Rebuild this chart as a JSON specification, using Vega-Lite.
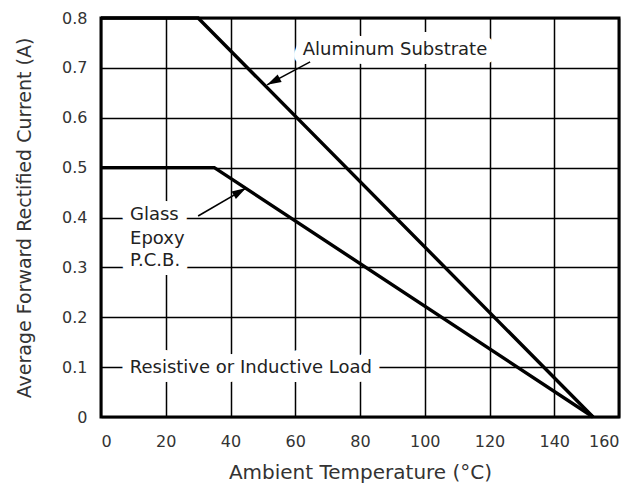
{
  "$schema": "https://vega.github.io/schema/vega-lite/v6.json",
  "width": 518,
  "height": 399,
  "autosize": {"type": "none"},
  "padding": {"left": 101, "top": 18, "right": 19, "bottom": 66},
  "background": "white",
  "config": {
    "font": "DejaVu Sans",
    "view": {"stroke": "black", "strokeWidth": 3},
    "axis": {
      "domain": false,
      "ticks": false,
      "grid": true,
      "gridColor": "black",
      "gridOpacity": 1,
      "gridWidth": 1.5,
      "labelFont": "DejaVu Sans",
      "labelFontSize": 16,
      "labelColor": "#333333",
      "titleFont": "DejaVu Sans",
      "titleFontWeight": "normal",
      "titleColor": "#333333"
    }
  },
  "datasets": {
    "curves": [
      {"series": "Aluminum Substrate", "t": 0, "i": 0.8},
      {"series": "Aluminum Substrate", "t": 30, "i": 0.8},
      {"series": "Aluminum Substrate", "t": 152, "i": 0},
      {"series": "Glass Epoxy P.C.B.", "t": 0, "i": 0.5},
      {"series": "Glass Epoxy P.C.B.", "t": 35, "i": 0.5},
      {"series": "Glass Epoxy P.C.B.", "t": 152, "i": 0}
    ],
    "centered": [
      {"label": "Aluminum Substrate", "t": 90.8, "i": 0.7258},
      {"label": "Resistive or Inductive Load", "t": 46.3, "i": 0.0882}
    ],
    "glass": [
      {"label": "Glass", "t": 8.96, "i": 0.395},
      {"label": "Epoxy", "t": 8.96, "i": 0.347},
      {"label": "P.C.B.", "t": 8.96, "i": 0.303}
    ],
    "arrows": [
      {"name": "Aluminum", "t": 64.6, "i": 0.712, "t2": 51.3, "i2": 0.666},
      {"name": "Glass", "t": 30.0, "i": 0.403, "t2": 44.8, "i2": 0.459}
    ]
  },
  "encoding": {
    "x": {
      "field": "t",
      "type": "quantitative",
      "scale": {"domain": [0, 160], "nice": false},
      "axis": {"values": [0, 20, 40, 60, 80, 100, 120, 140, 160], "labelPadding": 16, "titleFontSize": 20, "titlePadding": 13},
      "title": "Ambient Temperature (°C)"
    },
    "y": {
      "field": "i",
      "type": "quantitative",
      "scale": {"domain": [0, 0.8], "nice": false},
      "axis": {"values": [0, 0.1, 0.2, 0.3, 0.4, 0.5, 0.6, 0.7, 0.8], "labelPadding": 14, "titleFontSize": 19, "titlePadding": 27, "labelExpr": "datum.value == 0 ? '0' : format(datum.value, '.1f')"},
      "title": "Average Forward Rectified Current (A)"
    }
  },
  "layer": [
    {
      "data": {"name": "centered"},
      "mark": {"type": "text", "align": "center", "baseline": "alphabetic", "fontSize": 18, "color": "white", "stroke": "white", "strokeWidth": 18, "strokeJoin": "round"},
      "encoding": {"text": {"field": "label"}}
    },
    {
      "data": {"name": "glass"},
      "mark": {"type": "text", "align": "left", "baseline": "alphabetic", "fontSize": 18, "color": "white", "stroke": "white", "strokeWidth": 18, "strokeJoin": "round"},
      "encoding": {"text": {"field": "label"}}
    },
    {
      "data": {"name": "curves"},
      "mark": {"type": "line", "color": "black", "strokeWidth": 3.4},
      "encoding": {"detail": {"field": "series"}}
    },
    {
      "data": {"name": "arrows"},
      "mark": {"type": "rule", "color": "black", "strokeWidth": 1.6},
      "encoding": {"x2": {"field": "t2"}, "y2": {"field": "i2"}}
    },
    {
      "data": {"name": "arrows"},
      "transform": [{"filter": "datum.name == 'Aluminum'"}],
      "mark": {"type": "point", "shape": "M0,0 L0.9,3 L-0.9,3 Z", "filled": true, "color": "black", "opacity": 1, "size": 90, "angle": 242},
      "encoding": {"x": {"field": "t2", "type": "quantitative"}, "y": {"field": "i2", "type": "quantitative"}}
    },
    {
      "data": {"name": "arrows"},
      "transform": [{"filter": "datum.name == 'Glass'"}],
      "mark": {"type": "point", "shape": "M0,0 L0.9,3 L-0.9,3 Z", "filled": true, "color": "black", "opacity": 1, "size": 90, "angle": 59.7},
      "encoding": {"x": {"field": "t2", "type": "quantitative"}, "y": {"field": "i2", "type": "quantitative"}}
    },
    {
      "data": {"name": "centered"},
      "mark": {"type": "text", "align": "center", "baseline": "alphabetic", "fontSize": 18, "color": "#222222"},
      "encoding": {"text": {"field": "label"}}
    },
    {
      "data": {"name": "glass"},
      "mark": {"type": "text", "align": "left", "baseline": "alphabetic", "fontSize": 18, "color": "#222222"},
      "encoding": {"text": {"field": "label"}}
    }
  ]
}
